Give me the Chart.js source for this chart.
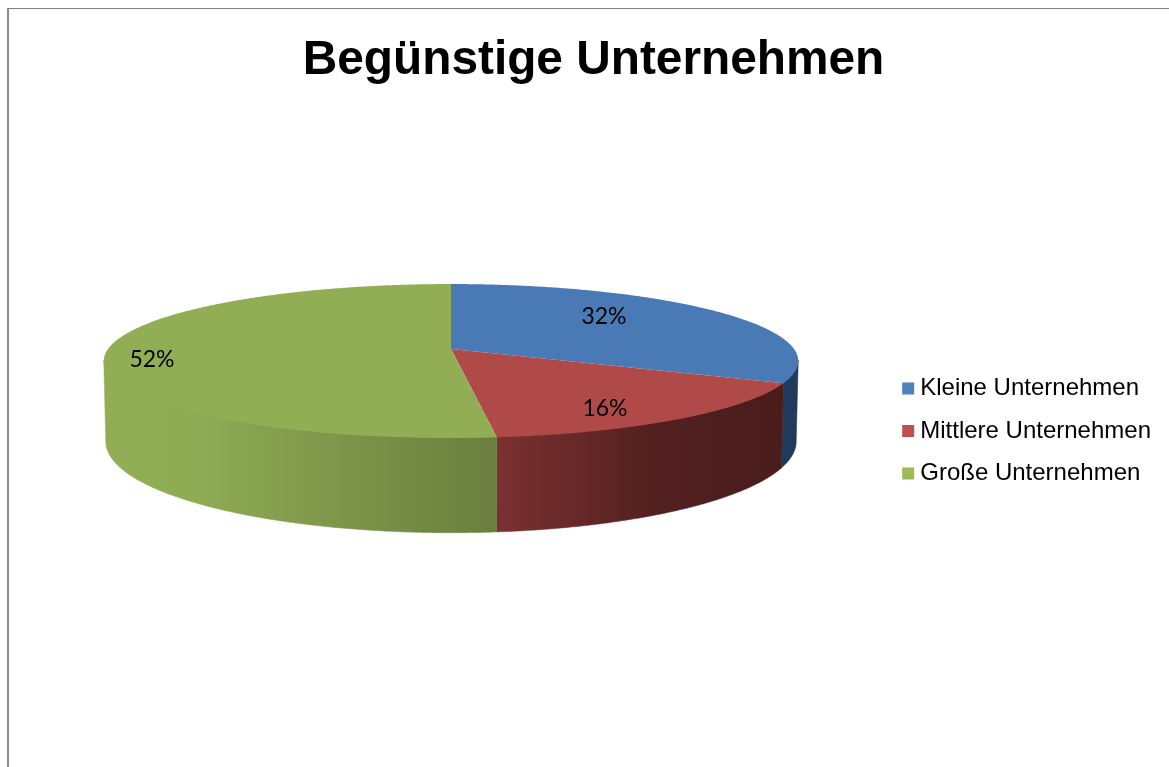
<!DOCTYPE html>
<html lang="de">

<head>
  <meta charset="UTF-8" />
  <title>Begünstige Unternehmen</title>
  <script src="https://cdn.jsdelivr.net/npm/chart.js"></script>
  <style>
    html, body { margin: 0; height: 100%; overflow: hidden; background: #fff; }
    #rahmen {
      position: absolute; left: 7px; top: 8px; width: 1169px; height: 844px;
      border-left: 2px solid #8c8c8c; border-top: 1px solid #808080;
    }
    canvas { display: block; }
  </style>
</head>

<body>
  <div id="rahmen"><canvas id="torte" width="1169" height="844"></canvas></div>

  <script>
    const categories = ["Kleine Unternehmen", "Mittlere Unternehmen", "Große Unternehmen"];
    const values = [32, 16.2, 51.8];

    const legendColors = ["#4F81BD", "#C0504D", "#9BBB59"];
    const faceColors = ["#4A7AB5", "#B04A48", "#92AE55"];

    // 3D look: Chart.js only does flat circles, so the arcs it computes get
    // projected with a small perspective. Circle stays a conic, apex is off centre.
    const apexX = 442, apexY = 340;
    const radiusX = 343, radiusY = 75.1;
    const bottomX = 341, bottomY = 89, wallDrop = 78.3;
    const tilt = -0.156;

    function project(angle, rx, ry, dropY) {
      const u = Math.cos(angle), v = Math.sin(angle);
      const d = 1 + tilt * v;
      return [apexX + rx * u / d, apexY + dropY + ry * v / d];
    }

    function wallPaint(ctx, i) {
      if (i === 0) return "#1F3A5C";
      const g = ctx.createLinearGradient(i === 1 ? 488 : 95, 0, i === 1 ? 775 : 488, 0);
      if (i === 1) {
        g.addColorStop(0, "#7C3031");
        g.addColorStop(0.55, "#522020");
        g.addColorStop(1, "#4A1C1C");
      } else {
        g.addColorStop(0, "#92AE55");
        g.addColorStop(0.22, "#8FAC54");
        g.addColorStop(1, "#6A7E3E");
      }
      return g;
    }

    const pie3d = {
      id: "pie3d",
      beforeDatasetDraw(chart, args) {
        const ctx = chart.ctx;
        const arcs = args.meta.data;
        // only the front part of the wall shows, between the two silhouette points
        const wallA = Math.asin(-tilt), wallB = Math.PI - wallA;

        arcs.forEach((arc, i) => {
          const a0 = Math.max(arc.startAngle, wallA), a1 = Math.min(arc.endAngle, wallB);
          if (a1 <= a0) return;
          const n = Math.ceil((a1 - a0) * 120);
          ctx.beginPath();
          for (let k = 0; k <= n; k++) {
            const p = project(a0 + (a1 - a0) * k / n, radiusX, radiusY, -1);
            k ? ctx.lineTo(p[0], p[1]) : ctx.moveTo(p[0], p[1]);
          }
          for (let k = n; k >= 0; k--) {
            const p = project(a0 + (a1 - a0) * k / n, bottomX, bottomY, wallDrop);
            ctx.lineTo(p[0], p[1]);
          }
          ctx.closePath();
          ctx.fillStyle = wallPaint(ctx, i);
          ctx.fill();
          ctx.strokeStyle = ctx.fillStyle;
          ctx.lineWidth = 0.5;
          ctx.stroke();
        });

        arcs.forEach((arc, i) => {
          const n = Math.ceil((arc.endAngle - arc.startAngle) * 120);
          ctx.beginPath();
          ctx.moveTo(apexX, apexY);
          for (let k = 0; k <= n; k++) {
            const p = project(arc.startAngle + (arc.endAngle - arc.startAngle) * k / n, radiusX, radiusY, 0);
            ctx.lineTo(p[0], p[1]);
          }
          ctx.closePath();
          ctx.fillStyle = faceColors[i];
          ctx.fill();
        });
        return false;
      },
      afterDatasetsDraw(chart) {
        const ctx = chart.ctx;
        const labelAt = [[595, 308], [596, 400], [143, 351]];
        ctx.save();
        ctx.font = "23px Lato";
        ctx.fillStyle = "#000";
        ctx.textAlign = "center";
        ctx.textBaseline = "middle";
        values.forEach((v, i) => ctx.fillText(Math.round(v) + "%", labelAt[i][0], labelAt[i][1]));
        ctx.restore();
      }
    };

    new Chart(document.getElementById("torte"), {
      type: "pie",
      data: {
        labels: categories,
        datasets: [{ data: values, backgroundColor: legendColors, borderWidth: 0 }]
      },
      plugins: [pie3d],
      options: {
        responsive: false,
        animation: false,
        layout: { padding: { left: 17, right: 17 } },
        plugins: {
          tooltip: { enabled: false },
          title: {
            display: true,
            text: "Begünstige Unternehmen",
            color: "#000",
            font: { family: "Liberation Sans", size: 47.8, weight: "bold" },
            padding: { top: 23, bottom: 20 }
          },
          legend: {
            position: "right",
            labels: {
              color: "#000",
              font: { family: "Liberation Sans", size: 24 },
              padding: 18.5,
              usePointStyle: true,
              pointStyle: "rect",
              boxWidth: 0.1,
              boxHeight: 12
            }
          }
        }
      }
    });
  </script>
</body>

</html>
